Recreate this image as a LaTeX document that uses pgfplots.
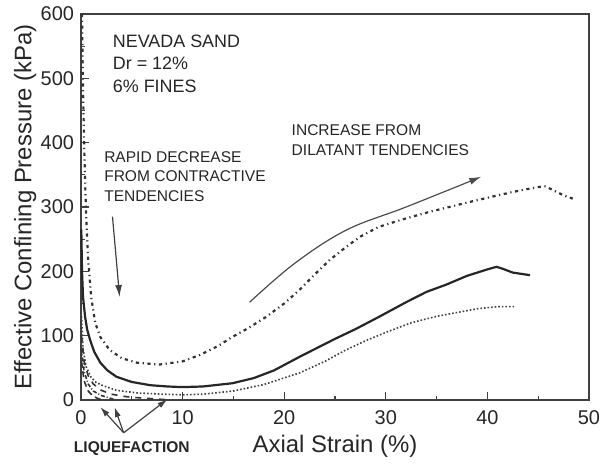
\documentclass[border=0pt]{standalone}
\usepackage{fontspec}
\setmainfont{Liberation Sans}
\usepackage{pgfplots}
\pgfplotsset{compat=1.18}
\usetikzlibrary{arrows.meta}
\begin{document}
\begin{tikzpicture}
\begin{axis}[
 scale only axis, width=254bp, height=193bp,
 xmin=0, xmax=50, ymin=0, ymax=600,
 xtick={0,10,...,50}, ytick={0,100,...,600},
 minor xtick={5,15,...,45}, minor ytick={50,150,...,550},
 tick pos=left, tick align=inside,
 major tick length=4bp, minor tick length=2bp,
 axis line style={black!75, line width=0.7bp},
 every tick/.style={black!75, line width=0.6bp},
 /pgf/number format/assume math mode=true,
 tick label style={font=\fontsize{10}{12}\selectfont, text=black!85},
 xticklabel style={yshift=-2bp},
 xlabel={Axial Strain (\%)},
 ylabel={Effective Confining Pressure (kPa)},
 every axis y label/.style={at={(axis description cs:-0.110,0.5)}, rotate=90, anchor=center, font=\fontsize{12}{14}\selectfont, text=black!85},
 every axis x label/.style={at={(axis description cs:0.5,0)}, anchor=center, yshift=-23bp, font=\fontsize{12}{14}\selectfont, text=black!85},
 clip=false,
]
% upper dash-dot curve
\addplot[black!80, line width=1.1bp, dash pattern=on 1.6pt off 1.8pt on 0.6pt off 1.8pt] coordinates {
(0.1,600) (0.2,480) (0.35,370) (0.5,290) (0.7,220) (1.0,160) (1.4,120) (1.9,98) (2.8,78) (4,65) (5.5,58) (7.7,55) (10,60) (11.7,70) (13.5,84) (14.9,98) (16.5,112) (18.2,129) (20,150) (21.5,171) (23,195) (24.5,218) (26.1,238) (27.5,254) (29.3,269) (31.5,280) (34.2,292) (37,303) (39.1,311) (41,318) (43,325) (45,331) (45.7,332) (46.5,326) (47.5,318) (48.4,313)
};
% solid curve
\addplot[black!85, line width=1.1bp] coordinates {
(0.03,265) (0.1,200) (0.2,160) (0.4,130) (0.6,110) (0.9,93) (1.3,75) (1.9,58) (2.6,46) (3.5,36) (5,28) (6.8,23) (8.5,21) (10,20) (12,21) (14.9,26) (17,34) (19,46) (21.5,67) (23,79) (25,95) (27,110) (29.3,129) (32,152) (34,168) (35.9,179) (38,193) (40,203) (40.9,207) (41.5,204) (42.5,198) (44.2,194)
};
% lower dotted curve
\addplot[black!75, line width=0.8bp, densely dotted] coordinates {
(0.05,130) (0.2,80) (0.5,52) (1,35) (1.5,27) (2.2,22) (3.5,15) (5.5,11) (8,9) (10,8) (12,9) (15,14) (18,24) (21.5,42) (24,60) (26.1,78) (28,92) (30,105) (32.5,120) (35,130) (37,136) (39.1,142) (41,145) (42.8,145)
};
% liquefaction curves
\addplot[black!80, line width=0.8bp, dashed] coordinates {
(0.05,100) (0.3,60) (0.7,38) (1.2,25) (2,15) (3,9) (4.5,5) (6,3) (8.4,0.5)
};
\addplot[black!80, line width=0.8bp, dash pattern=on 2pt off 1pt on 0.5pt off 1pt] coordinates {
(0.05,80) (0.3,45) (0.7,25) (1.2,14) (2,7) (2.8,3) (3.4,0.5)
};
\addplot[black!80, line width=0.8bp, densely dashed] coordinates {
(0.05,60) (0.3,30) (0.7,14) (1.2,6) (1.7,2) (2,0.5)
};
% annotations
\node[anchor=north west, inner sep=0pt, align=left, font=\fontsize{9}{11.25}\selectfont, text=black!85] at (axis cs:3.1,568) {NEVADA SAND\\Dr = 12\%\\6\% FINES};
\node[anchor=north west, inner sep=0pt, align=left, font=\fontsize{7.8}{9.8}\selectfont, text=black!85] at (axis cs:2.25,387) {RAPID DECREASE\\FROM CONTRACTIVE\\TENDENCIES};
\node[anchor=north west, inner sep=0pt, align=left, font=\fontsize{7.8}{10}\selectfont, text=black!85] at (axis cs:20.7,428) {INCREASE FROM\\DILATANT TENDENCIES};
\node[inner sep=0pt, font=\fontsize{7.8}{10}\selectfont\bfseries, text=black!85] at (axis cs:5,-76) {LIQUEFACTION};
\draw[black!75, line width=0.6bp, -{Latex[length=6bp,width=3.5bp]}] (axis cs:3.1,285) -- (axis cs:3.8,160);
\draw[black!70, line width=0.6bp, -{Latex[length=6bp,width=3.5bp]}] plot[smooth, tension=0.6] coordinates {(axis cs:16.6,152) (axis cs:21,212) (axis cs:26.1,264) (axis cs:32,300) (axis cs:39.4,347)};
\draw[black!75, line width=0.6bp, -{Latex[length=5bp,width=3bp]}] (axis cs:4.2,-51) -- (axis cs:1.9,-11);
\draw[black!75, line width=0.6bp, -{Latex[length=5bp,width=3bp]}] (axis cs:4.2,-51) -- (axis cs:3.3,-11);
\draw[black!75, line width=0.6bp, -{Latex[length=5bp,width=3bp]}] (axis cs:4.2,-51) -- (axis cs:8.5,1);
\coordinate (bl) at (rel axis cs:0,0);
\coordinate (tr) at (rel axis cs:1,1);
\end{axis}
\pgfresetboundingbox
\path ([xshift=-40.5bp,yshift=-32.5bp]bl) rectangle ([xshift=5.5bp,yshift=7bp]tr);
\end{tikzpicture}
\end{document}
